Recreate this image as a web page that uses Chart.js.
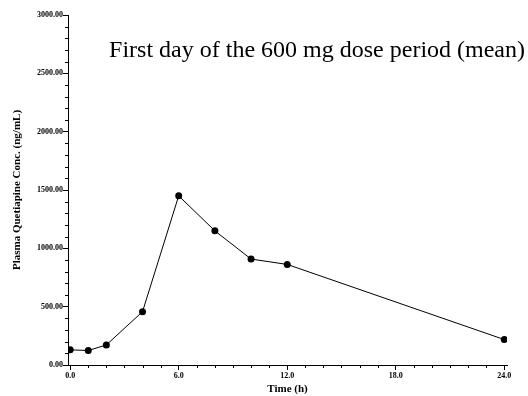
<!DOCTYPE html>
<html lang="en">
<head>
    <meta charset="UTF-8">
    <title>Plasma Quetiapine Concentration</title>
    <script src="https://cdn.jsdelivr.net/npm/chart.js"></script>
    <style>
        html, body { margin: 0; padding: 0; background: #fff; }
        #wrap { width: 528px; height: 396px; position: relative; }
    </style>
</head>
<body>
    <div id="wrap"><canvas id="myChart"></canvas></div>

    <script>
        // data
        var timeHours = [0, 1, 2, 4, 6, 8, 10, 12, 24];
        var meanConc = [130, 124, 172, 457, 1450, 1150, 908, 862, 218];

        var xTickValues = [0, 6, 12, 18, 24];
        var xTickLabels = ["0.0", "6.0", "12.0", "18.0", "24.0"];
        var yTickValues = [0, 500, 1000, 1500, 2000, 2500, 3000];
        var yTickLabels = ["0.00", "500.00", "1000.00", "1500.00", "2000.00", "2500.00", "3000.00"];

        var chartTitle = "First day of the 600 mg dose period (mean)";

        var tickFont = { family: "Liberation Serif", size: 8, weight: "bold" };
        var axisTitleFont = { family: "Liberation Serif", size: 11, weight: "bold" };

        // minor tick marks every 1 h / 100 ng/mL
        var minorTicks = {
            id: "minorTicks",
            afterDraw: function (chart) {
                var ctx = chart.ctx;
                var xs = chart.scales.x, ys = chart.scales.y;
                ctx.save();
                ctx.strokeStyle = "#000";
                ctx.lineWidth = 1;
                ctx.beginPath();
                for (var h = 0; h <= 24; h++) {
                    if (h % 6 === 0) continue;
                    var px = Math.round(xs.getPixelForValue(h)) + 0.5;
                    ctx.moveTo(px, xs.top);
                    ctx.lineTo(px, xs.top + 3);
                }
                for (var v = 0; v <= 3000; v += 100) {
                    if (v % 500 === 0) continue;
                    var py = Math.round(ys.getPixelForValue(v)) + 0.5;
                    ctx.moveTo(ys.right, py);
                    ctx.lineTo(ys.right - 3, py);
                }
                ctx.stroke();
                ctx.restore();
            }
        };

        var innerTitle = {
            id: "innerTitle",
            afterDraw: function (chart) {
                var ctx = chart.ctx;
                ctx.save();
                ctx.fillStyle = "#000";
                ctx.font = '24px "Liberation Serif"';
                ctx.textAlign = "right";
                ctx.textBaseline = "alphabetic";
                ctx.fillText(chartTitle, 525, 57);
                ctx.restore();
            }
        };

        function createChart() {
            var ctx = document.getElementById("myChart").getContext("2d");
            new Chart(ctx, {
                type: "scatter",
                data: {
                    datasets: [{
                        data: timeHours.map(function (t, i) { return { x: t, y: meanConc[i] }; }),
                        showLine: true,
                        borderColor: "#000",
                        borderWidth: 1,
                        backgroundColor: "#000",
                        pointRadius: 3.5,
                        pointBorderWidth: 0
                    }]
                },
                options: {
                    responsive: true,
                    maintainAspectRatio: false,
                    animation: false,
                    layout: { padding: { top: 15, right: 21, left: 0, bottom: 0 } },
                    plugins: {
                        legend: { display: false },
                        tooltip: { enabled: false }
                    },
                    scales: {
                        x: {
                            type: "linear",
                            min: -0.12,
                            max: 24.15,
                            afterBuildTicks: function (scale) {
                                scale.ticks = xTickValues.map(function (v) { return { value: v }; });
                            },
                            afterFit: function (scale) { scale.height = 31; },
                            grid: { drawOnChartArea: false, tickLength: 5, color: "#000", tickColor: "#000" },
                            border: { color: "#000", width: 1 },
                            ticks: {
                                color: "#000",
                                font: tickFont,
                                padding: 1,
                                maxRotation: 0,
                                autoSkip: false,
                                callback: function (v) {
                                    var i = xTickValues.indexOf(v);
                                    return i < 0 ? "" : xTickLabels[i];
                                }
                            },
                            title: {
                                display: true,
                                text: "Time (h)",
                                color: "#000",
                                font: axisTitleFont,
                                padding: { top: 0, bottom: 0 }
                            }
                        },
                        y: {
                            min: 0,
                            max: 3000,
                            afterBuildTicks: function (scale) {
                                scale.ticks = yTickValues.map(function (v) { return { value: v }; });
                            },
                            afterFit: function (scale) { scale.width = 68; },
                            grid: { drawOnChartArea: false, tickLength: 5, color: "#000", tickColor: "#000" },
                            border: { color: "#000", width: 1 },
                            ticks: {
                                color: "#000",
                                font: tickFont,
                                padding: 0,
                                autoSkip: false,
                                callback: function (v) {
                                    var i = yTickValues.indexOf(v);
                                    return i < 0 ? "" : yTickLabels[i];
                                }
                            },
                            title: {
                                display: true,
                                text: "Plasma Quetiapine Conc. (ng/mL)",
                                color: "#000",
                                font: axisTitleFont,
                                padding: { top: 11, bottom: 4 }
                            }
                        }
                    }
                },
                plugins: [minorTicks, innerTitle]
            });
        }

        createChart();
    </script>
</body>
</html>
